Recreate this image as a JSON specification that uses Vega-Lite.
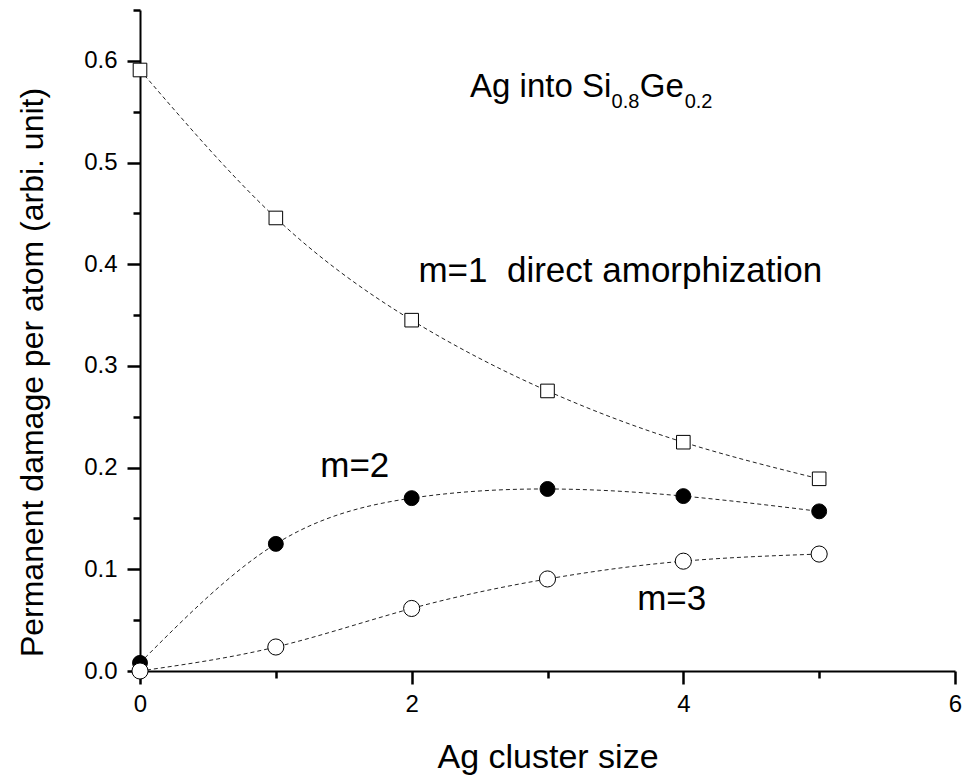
{
  "$schema": "https://vega.github.io/schema/vega-lite/v6.json",
  "autosize": "none",
  "width": 815,
  "height": 661,
  "padding": {"left": 140, "top": 10, "right": 9, "bottom": 106},
  "background": "white",
  "config": {
    "view": {"stroke": null},
    "font": "Liberation Sans",
    "axis": {"grid": false, "ticks": true, "domainColor": "black", "tickColor": "black", "labelColor": "black", "titleColor": "black", "domainWidth": 2, "tickWidth": 2.5, "labelFont": "Liberation Sans", "titleFont": "Liberation Sans", "titleFontWeight": "normal", "labelFontSize": 24, "titleFontSize": 32}
  },
  "datasets": {
    "pts": [
      {"series": "m1", "size": 0, "damage": 0.591},
      {"series": "m1", "size": 1, "damage": 0.4455},
      {"series": "m1", "size": 2, "damage": 0.345},
      {"series": "m1", "size": 3, "damage": 0.2754},
      {"series": "m1", "size": 4, "damage": 0.225},
      {"series": "m1", "size": 5, "damage": 0.189},
      {"series": "m2", "size": 0, "damage": 0.008},
      {"series": "m2", "size": 1, "damage": 0.125},
      {"series": "m2", "size": 2, "damage": 0.170},
      {"series": "m2", "size": 3, "damage": 0.179},
      {"series": "m2", "size": 4, "damage": 0.172},
      {"series": "m2", "size": 5, "damage": 0.157},
      {"series": "m3", "size": 0, "damage": 0.0},
      {"series": "m3", "size": 1, "damage": 0.0236},
      {"series": "m3", "size": 2, "damage": 0.0615},
      {"series": "m3", "size": 3, "damage": 0.0905},
      {"series": "m3", "size": 4, "damage": 0.108},
      {"series": "m3", "size": 5, "damage": 0.115}
    ]
  },
  "layer": [
    {
      "data": {"name": "pts"},
      "mark": {"type": "line", "interpolate": "natural", "stroke": "#222", "strokeWidth": 1, "strokeDash": [4, 3]},
      "encoding": {
        "x": {"field": "size", "type": "quantitative", "scale": {"domain": [0, 6], "nice": false}, "axis": {"orient": "bottom", "values": [0, 1, 2, 3, 4, 5, 6], "tickSize": {"condition": {"test": "round(datum.value) % 2 == 0", "value": 13}, "value": 7}, "labelExpr": "round(datum.value) % 2 == 0 ? format(datum.value, 'd') : ''", "labelPadding": 8, "title": "Ag cluster size", "titleFontSize": 34, "titleBaseline": "alphabetic", "titleY": 96, "labelFlush": false}},
        "y": {"field": "damage", "type": "quantitative", "scale": {"domain": [0, 0.65], "nice": false, "zero": false}, "axis": {"orient": "left", "values": [0, 0.05, 0.1, 0.15, 0.2, 0.25, 0.3, 0.35, 0.4, 0.45, 0.5, 0.55, 0.6, 0.65], "tickSize": {"condition": {"test": "round(datum.value * 20) % 2 == 0", "value": 13}, "value": 7}, "labelExpr": "round(datum.value * 20) % 2 == 0 ? format(datum.value, '.1f') : ''", "labelPadding": 10, "title": "Permanent damage per atom (arbi. unit)", "titleAngle": 270, "titleBaseline": "alphabetic", "titleAlign": "center", "titleX": -98, "titleY": 362, "labelFlush": false}},
        "detail": {"field": "series"}
      }
    },
    {
      "data": {"name": "pts"},
      "mark": {"type": "point", "stroke": "black", "strokeWidth": 1, "opacity": 1, "filled": false},
      "encoding": {
        "x": {"field": "size", "type": "quantitative"},
        "y": {"field": "damage", "type": "quantitative"},
        "shape": {"field": "series", "type": "nominal", "scale": {"domain": ["m1", "m2", "m3"], "range": ["square", "circle", "circle"]}, "legend": null},
        "fill": {"field": "series", "type": "nominal", "scale": {"domain": ["m1", "m2", "m3"], "range": ["white", "black", "white"]}, "legend": null},
        "size": {"field": "series", "type": "nominal", "scale": {"domain": ["m1", "m2", "m3"], "range": [185, 260, 260]}, "legend": null}
      }
    },
    {
      "data": {"values": [{"x": 2.43, "y": 0.5646, "label": "Ag into Si"}, {"x": 3.68, "y": 0.5646, "label": "Ge"}]},
      "mark": {"type": "text", "align": "left", "baseline": "alphabetic", "fontSize": 33, "font": "Liberation Sans", "color": "black"},
      "encoding": {
        "x": {"field": "x", "type": "quantitative"},
        "y": {"field": "y", "type": "quantitative"},
        "text": {"field": "label"}
      }
    },
    {
      "data": {"values": [{"x": 2.05, "y": 0.3826, "label": "m=1\u00a0\u00a0direct amorphization"}, {"x": 1.327, "y": 0.1908, "label": "m=2"}, {"x": 3.66, "y": 0.06, "label": "m=3"}]},
      "mark": {"type": "text", "align": "left", "baseline": "alphabetic", "fontSize": 35, "font": "Liberation Sans", "color": "black"},
      "encoding": {
        "x": {"field": "x", "type": "quantitative"},
        "y": {"field": "y", "type": "quantitative"},
        "text": {"field": "label"}
      }
    },
    {
      "data": {"values": [{"x": 3.472, "y": 0.5535, "label": "0.8"}, {"x": 4.01, "y": 0.5535, "label": "0.2"}]},
      "mark": {"type": "text", "align": "left", "baseline": "alphabetic", "fontSize": 20, "font": "Liberation Sans", "color": "black"},
      "encoding": {
        "x": {"field": "x", "type": "quantitative"},
        "y": {"field": "y", "type": "quantitative"},
        "text": {"field": "label"}
      }
    }
  ]
}
